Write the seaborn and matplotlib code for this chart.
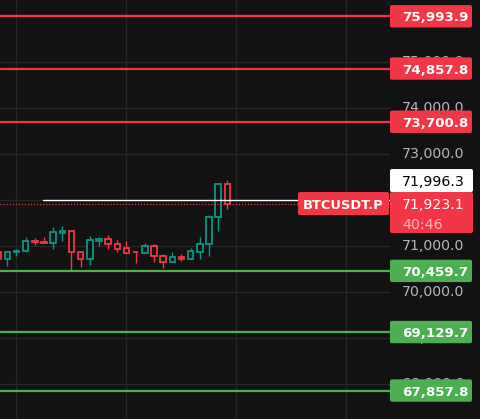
import numpy as np
import pandas as pd
import matplotlib.pyplot as plt
from matplotlib.patches import FancyBboxPatch
import seaborn as sns

# hollow candles, oldest first (the last one is still open)
opens = [70870, 70710, 70862, 70884, 71109, 71094, 71058, 71290, 71319, 70862,
         70710, 71116, 71145, 71036, 70949, 70877, 70841, 70993, 70775, 70645,
         70754, 70710, 70877, 71036, 71623, 72341]
highs = [70880, 70891, 70935, 71196, 71174, 71196, 71413, 71434, 71319, 70862,
         71217, 71203, 71239, 71130, 71109, 70891, 71058, 71043, 70819, 70870,
         70819, 70949, 71196, 71674, 72341, 72435]
lows = [70700, 70572, 70790, 70862, 71029, 71058, 70942, 71116, 70464, 70551,
        70594, 71007, 70942, 70877, 70841, 70638, 70841, 70659, 70529, 70645,
        70667, 70710, 70725, 70790, 71333, 71812]
closes = [70710, 70862, 70899, 71109, 71094, 71058, 71297, 71326, 70862, 70710,
          71123, 71152, 71036, 70942, 70841, 70862, 70993, 70775, 70645, 70754,
          70710, 70891, 71036, 71623, 72341, 71923.1]

resistance = [75993.9, 74857.8, 73700.8]
support = [70459.7, 69129.7, 67857.8]
last_price = 71923.1
mark_price = 71996.3
symbol = "BTCUSDT.P"
countdown = "40:46"
price_ticks = list(range(68000, 77000, 1000))
time_grid = [2, 14, 26, 38]

BG = "#121212"
UP = "#089981"
DOWN = "#f23645"
GREEN = "#4caf50"
TXT = "#b2b5be"

sns.set_theme(style="darkgrid", rc={
    "axes.facecolor": BG, "figure.facecolor": BG, "axes.edgecolor": BG,
    "grid.color": "#262626", "grid.linewidth": 1.0,
})
plt.rcParams["font.family"] = ["DejaVu Sans"]

W, H = 480, 419
plot_w = 390
fig = plt.figure(figsize=(W / 100, H / 100), dpi=100)
ax = fig.add_axes([0, 0, plot_w / W, 1])

df = pd.DataFrame({"open": opens, "high": highs, "low": lows, "close": closes})
df["x"] = np.arange(len(df))
df["color"] = np.where(df["close"] >= df["open"], UP, DOWN)

# price scale: 46 px per 1000
upp = 1000 / 46
ytop = 75000 + 62 * upp
ybot = ytop - H * upp
step = 9.167
xl = 1 - 7.3 / step
ax.set_xlim(xl, xl + plot_w / step)
ax.set_ylim(ybot, ytop)

ax.vlines(df["x"], df["low"], df["high"], colors=df["color"], lw=1, zorder=2)
ax.bar(df["x"], (df["close"] - df["open"]).abs().clip(lower=8),
       bottom=df[["open", "close"]].min(axis=1), width=0.6, color=BG,
       edgecolor=df["color"], linewidth=1.3, zorder=3)

for v in resistance:
    ax.axhline(v, color=DOWN, lw=1.6, zorder=4)
for v in support:
    ax.axhline(v, color=GREEN, lw=1.6, zorder=4)
ax.axhline(last_price, color=DOWN, lw=1, ls=(0, (0.8, 1.4)), zorder=4)
ax.axhline(mark_price, xmin=43 / plot_w, color="white", lw=1, zorder=4)

ax.set_xticks(time_grid)
ax.set_xticklabels([])
ax.tick_params(axis="x", length=0)
ax.yaxis.tick_right()
ax.set_yticks(price_ticks)
ax.set_yticklabels([f"{v:,.1f}" for v in price_ticks])
ax.tick_params(axis="y", length=0, pad=8.4, labelsize=10.2, labelcolor=TXT)
for lbl in ax.get_yticklabels():
    lbl.set_verticalalignment("center")
for s in ax.spines.values():
    s.set_visible(False)

# overlay for the price tags: x in pixels, y in price
ov = fig.add_axes([0, 0, 1, 1])
ov.set_xlim(0, W)
ov.set_ylim(ybot, ytop)
ov.axis("off")
ov.patch.set_alpha(0)


def tag(x0, x1, top, bottom, color):
    ov.add_patch(FancyBboxPatch((x0, bottom), x1 - x0, top - bottom,
                                boxstyle="round,pad=0,rounding_size=2",
                                mutation_aspect=upp, fc=color, ec="none"))


for v, c in [(v, DOWN) for v in resistance] + [(v, GREEN) for v in support]:
    tag(390, 472, v + 11.2 * upp, v - 11.2 * upp, c)
    ov.text(402, v, f"{v:,.1f}", ha="left", va="center_baseline",
            color="white", fontsize=9.6, fontweight="bold")

# last price + countdown, mark price above it
red_top = last_price + 11.5 * upp
tag(390, 473, red_top, last_price - 29.5 * upp, DOWN)
ov.text(402, last_price, f"{last_price:,.1f}", ha="left", va="center_baseline",
        color="white", fontsize=10.2)
ov.text(402, last_price - 19.5 * upp, countdown, ha="left", va="center_baseline",
        color="#fab5bb", fontsize=10.2)
tag(390, 473, red_top + 23 * upp, red_top, "white")
ov.text(402, red_top + 11.5 * upp, f"{mark_price:,.1f}", ha="left",
        va="center_baseline", color="black", fontsize=10.2)

tag(298, 389, last_price + 11.5 * upp, last_price - 11.5 * upp, DOWN)
ov.text(343.5, last_price, symbol, ha="center", va="center_baseline",
        color="white", fontsize=9.4, fontweight="bold")

fig.savefig("out.png", dpi=100, facecolor=BG)
